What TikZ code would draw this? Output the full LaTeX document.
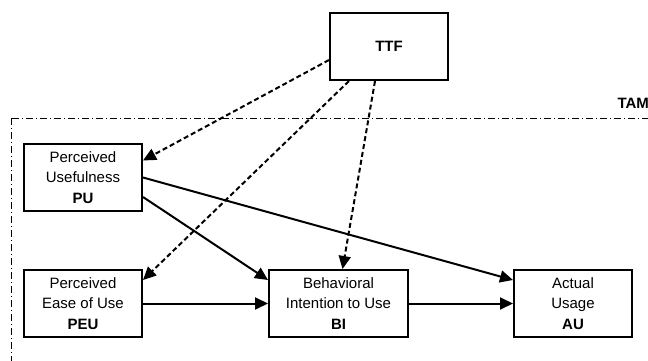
\documentclass[tikz,border=0pt]{standalone}
\usepackage{fontspec}
\setmainfont{Liberation Sans}
\usepackage{tikz}
\usetikzlibrary{arrows.meta}

\begin{document}
\begin{tikzpicture}[x = 1pt, y = -1pt,
  box/.style = {draw, line width = 2pt, align = center, inner sep = 0pt,
    minimum width = 118pt, minimum height = 67pt,
    font = \fontsize{15}{20.5}\selectfont},
  link/.style = {line width = 2pt, -{Triangle[length = 13pt, width = 12pt]}},
  tflink/.style = {link, dash pattern = on 5pt off 3pt}]
  \clip (0, 0) rectangle (648, 361);
  \draw[line width = 0.9pt, dash pattern = on 7pt off 3pt on 1pt off 3pt]
    (11, 118) rectangle (700, 420);
  \node[anchor = base west, font = \fontsize{15}{18}\selectfont\bfseries] at (614, 108) (tam) {TAM};
  \node[box] at (389, 46.5) (ttf) {\textbf{TTF}};
  \node[box] at (83, 177.5) (pu) {Perceived\\Usefulness\\\textbf{PU}};
  \node[box] at (83, 303.5) (peu) {Perceived\\Ease of Use\\\textbf{PEU}};
  \node[box, minimum width = 139pt] at (338.5, 303.5) (bi) {Behavioral\\Intention to Use\\\textbf{BI}};
  \node[box] at (573, 303.5) (au) {Actual\\Usage\\\textbf{AU}};
  \draw[tflink] ([yshift = -13.5pt]ttf.west) -- ([yshift = 17pt]pu.east);
  \draw[tflink] ([xshift = -40pt]ttf.south) -- ([yshift = 23.5pt]peu.east);
  \draw[tflink] ([xshift = -14pt]ttf.south) -- ([xshift = 4pt]bi.north);
  \draw[link] (pu.east) -- ([yshift = 23.5pt]au.west);
  \draw[link] ([yshift = -19.5pt]pu.east) -- ([yshift = 23.5pt]bi.west);
  \draw[link] (peu.east) -- (bi.west);
  \draw[link] (bi.east) -- (au.west);
\end{tikzpicture}
\end{document}
